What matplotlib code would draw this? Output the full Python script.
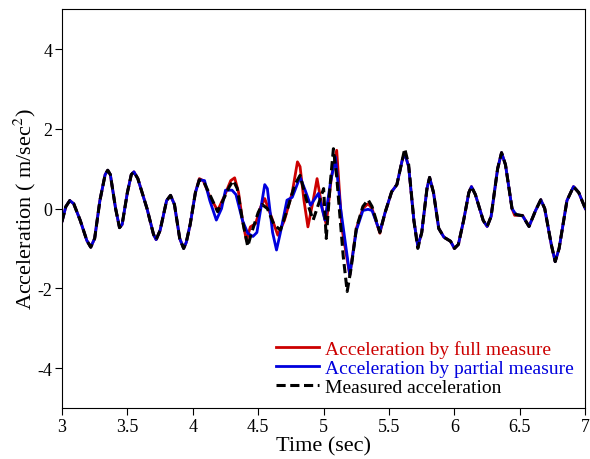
import matplotlib
matplotlib.use("Agg")
import matplotlib.pyplot as plt

plt.rcParams['font.family'] = ['Liberation Serif', 'DejaVu Serif']
plt.rcParams['mathtext.fontset'] = 'stix'
plt.rcParams['axes.unicode_minus'] = False

# measured acceleration (black dashed)
t_meas = [3.00, 3.03, 3.06, 3.09, 3.14, 3.19, 3.22, 3.25, 3.29, 3.33, 3.35, 3.37,
          3.41, 3.44, 3.46, 3.50, 3.53, 3.55, 3.58, 3.65, 3.70, 3.72, 3.75, 3.80,
          3.83, 3.86, 3.90, 3.93, 3.95, 3.98, 4.02, 4.05, 4.08, 4.13, 4.19, 4.23,
          4.28, 4.31, 4.34, 4.38, 4.42, 4.45, 4.50, 4.53, 4.57, 4.62, 4.67, 4.72,
          4.78, 4.82, 4.87, 4.92, 4.96, 5.00, 5.02, 5.05, 5.075, 5.10, 5.15, 5.18,
          5.21, 5.25, 5.30, 5.34, 5.37, 5.43, 5.47, 5.52, 5.56, 5.60, 5.62, 5.65,
          5.69, 5.72, 5.75, 5.79, 5.81, 5.84, 5.88, 5.92, 5.97, 6.00, 6.03, 6.07,
          6.11, 6.13, 6.16, 6.22, 6.25, 6.28, 6.33, 6.36, 6.39, 6.44, 6.47, 6.52,
          6.57, 6.62, 6.66, 6.69, 6.74, 6.77, 6.80, 6.86, 6.91, 6.95, 7.00]
a_meas = [-0.33, 0.05, 0.20, 0.12, -0.30, -0.80, -0.97, -0.75, 0.20, 0.85, 0.96, 0.85,
          0.00, -0.48, -0.40, 0.40, 0.85, 0.92, 0.75, 0.00, -0.65, -0.78, -0.55, 0.20,
          0.33, 0.10, -0.75, -1.00, -0.85, -0.40, 0.40, 0.72, 0.70, 0.35, -0.08, 0.20,
          0.55, 0.70, 0.50, -0.30, -0.95, -0.60, -0.10, 0.10, 0.00, -0.40, -0.54, -0.05,
          0.60, 0.83, 0.20, -0.29, 0.10, 0.50, -0.75, 0.60, 1.50, 0.80, -1.20, -2.08,
          -1.50, -0.50, 0.05, 0.22, 0.05, -0.60, -0.10, 0.42, 0.60, 1.20, 1.50, 1.10,
          -0.30, -1.00, -0.60, 0.50, 0.78, 0.40, -0.50, -0.72, -0.82, -1.00, -0.90, -0.30,
          0.40, 0.55, 0.35, -0.30, -0.45, -0.20, 1.00, 1.40, 1.10, 0.00, -0.15, -0.18,
          -0.45, -0.05, 0.22, 0.00, -0.90, -1.33, -1.00, 0.20, 0.55, 0.40, 0.00]

# acceleration by full measure (red)
t_full = [3.00, 3.03, 3.06, 3.09, 3.14, 3.19, 3.22, 3.25, 3.29, 3.33, 3.35, 3.37,
          3.41, 3.44, 3.46, 3.50, 3.53, 3.55, 3.58, 3.65, 3.70, 3.72, 3.75, 3.80,
          3.83, 3.86, 3.90, 3.93, 3.95, 3.98, 4.02, 4.05, 4.08, 4.13, 4.19, 4.24,
          4.29, 4.32, 4.35, 4.38, 4.41, 4.44, 4.48, 4.52, 4.55, 4.60, 4.65, 4.70,
          4.76, 4.80, 4.82, 4.85, 4.88, 4.92, 4.95, 4.99, 5.02, 5.06, 5.10, 5.14,
          5.20, 5.25, 5.30, 5.34, 5.37, 5.43, 5.47, 5.52, 5.56, 5.60, 5.62, 5.65,
          5.69, 5.72, 5.75, 5.79, 5.81, 5.84, 5.88, 5.92, 5.97, 6.00, 6.03, 6.07,
          6.11, 6.13, 6.16, 6.22, 6.25, 6.28, 6.33, 6.36, 6.39, 6.44, 6.46, 6.52,
          6.57, 6.62, 6.66, 6.69, 6.74, 6.77, 6.80, 6.86, 6.91, 6.95, 7.00]
a_full = [-0.33, 0.05, 0.20, 0.12, -0.30, -0.80, -0.97, -0.75, 0.20, 0.85, 0.96, 0.85,
          0.00, -0.48, -0.40, 0.40, 0.85, 0.92, 0.75, 0.00, -0.65, -0.78, -0.55, 0.20,
          0.33, 0.10, -0.75, -1.00, -0.85, -0.40, 0.40, 0.75, 0.70, 0.30, -0.05, 0.30,
          0.70, 0.77, 0.40, -0.30, -0.80, -0.46, -0.38, 0.05, 0.25, -0.20, -0.67, -0.30,
          0.40, 1.17, 1.05, 0.20, -0.46, 0.20, 0.75, 0.00, -0.40, 0.80, 1.46, -0.50,
          -1.67, -0.50, 0.00, 0.12, 0.00, -0.62, -0.10, 0.42, 0.60, 1.20, 1.40, 1.05,
          -0.30, -0.95, -0.60, 0.50, 0.78, 0.40, -0.50, -0.72, -0.82, -1.00, -0.90, -0.30,
          0.40, 0.55, 0.35, -0.30, -0.45, -0.20, 1.00, 1.40, 1.10, 0.00, -0.17, -0.17,
          -0.45, -0.05, 0.22, 0.00, -0.90, -1.33, -1.00, 0.20, 0.55, 0.40, 0.00]

# acceleration by partial measure (blue)
t_part = [3.00, 3.03, 3.06, 3.09, 3.14, 3.19, 3.22, 3.25, 3.29, 3.33, 3.35, 3.37,
          3.41, 3.44, 3.46, 3.50, 3.53, 3.55, 3.58, 3.65, 3.70, 3.72, 3.75, 3.80,
          3.83, 3.86, 3.90, 3.93, 3.95, 3.98, 4.02, 4.05, 4.09, 4.13, 4.18, 4.22,
          4.25, 4.30, 4.33, 4.38, 4.42, 4.46, 4.49, 4.52, 4.55, 4.57, 4.61, 4.64,
          4.67, 4.72, 4.76, 4.82, 4.86, 4.90, 4.96, 5.01, 5.05, 5.09, 5.13, 5.20,
          5.25, 5.30, 5.34, 5.37, 5.43, 5.47, 5.52, 5.56, 5.60, 5.62, 5.65,
          5.69, 5.72, 5.75, 5.79, 5.81, 5.84, 5.88, 5.92, 5.97, 6.00, 6.03, 6.07,
          6.11, 6.13, 6.16, 6.22, 6.25, 6.28, 6.33, 6.36, 6.39, 6.44, 6.47, 6.52,
          6.57, 6.62, 6.66, 6.69, 6.74, 6.77, 6.80, 6.86, 6.91, 6.95, 7.00]
a_part = [-0.33, 0.05, 0.20, 0.12, -0.30, -0.80, -0.97, -0.75, 0.20, 0.85, 0.96, 0.85,
          0.00, -0.48, -0.40, 0.40, 0.85, 0.92, 0.75, 0.00, -0.65, -0.78, -0.55, 0.20,
          0.33, 0.10, -0.75, -1.00, -0.85, -0.40, 0.40, 0.72, 0.70, 0.20, -0.29, 0.00,
          0.46, 0.46, 0.35, -0.30, -0.62, -0.70, -0.60, 0.00, 0.60, 0.50, -0.60, -1.04,
          -0.60, 0.21, 0.28, 0.79, 0.45, 0.08, 0.38, -0.29, 0.60, 1.29, 0.00, -1.67,
          -0.55, -0.05, -0.02, -0.05, -0.58, -0.10, 0.42, 0.60, 1.20, 1.38, 1.05,
          -0.30, -0.95, -0.60, 0.50, 0.78, 0.40, -0.50, -0.72, -0.82, -1.00, -0.90, -0.30,
          0.40, 0.55, 0.35, -0.30, -0.45, -0.20, 1.00, 1.40, 1.10, 0.00, -0.15, -0.18,
          -0.45, -0.05, 0.22, 0.00, -0.90, -1.33, -1.00, 0.20, 0.55, 0.40, 0.00]

x_ticks = [3, 3.5, 4, 4.5, 5, 5.5, 6, 6.5, 7]
x_labels = ['3', '3.5', '4', '4.5', '5', '5.5', '6', '6.5', '7']
y_ticks = [-4, -2, 0, 2, 4]

fig = plt.figure(figsize=(5.9, 4.6), dpi=100)
ax = fig.add_axes([0.105, 0.111, 0.887, 0.867])

ax.plot(t_full, a_full, color='#cc0000', lw=2.0, label='Acceleration by full measure')
ax.plot(t_part, a_part, color='#0000dd', lw=2.0, label='Acceleration by partial measure')
ax.plot(t_meas, a_meas, color='black', lw=2.2, ls=(0, (3, 1.5)), label='Measured acceleration')

ax.set_xlim(3, 7)
ax.set_ylim(-5, 5)
ax.set_xticks(x_ticks)
ax.set_xticklabels(x_labels)
ax.set_yticks(y_ticks)
ax.tick_params(direction='out', length=5, labelsize=13, pad=2, top=False, right=False)
ax.set_xlabel('Time (sec)', fontsize=16)
ax.xaxis.set_label_coords(0.5, -0.072)
ax.set_ylabel(r'Acceleration ( m/sec$^2$)', fontsize=16)
ax.yaxis.set_label_coords(-0.045, 0.5)

leg = ax.legend(loc='lower right', bbox_to_anchor=(0.993, 0.010), frameon=False,
                fontsize=14, handlelength=2.2, handletextpad=0.3, labelspacing=0.08,
                borderaxespad=0)
for txt, col in zip(leg.get_texts(), ['#cc0000', '#0000dd', 'black']):
    txt.set_color(col)

fig.savefig('out.png', dpi=100)
